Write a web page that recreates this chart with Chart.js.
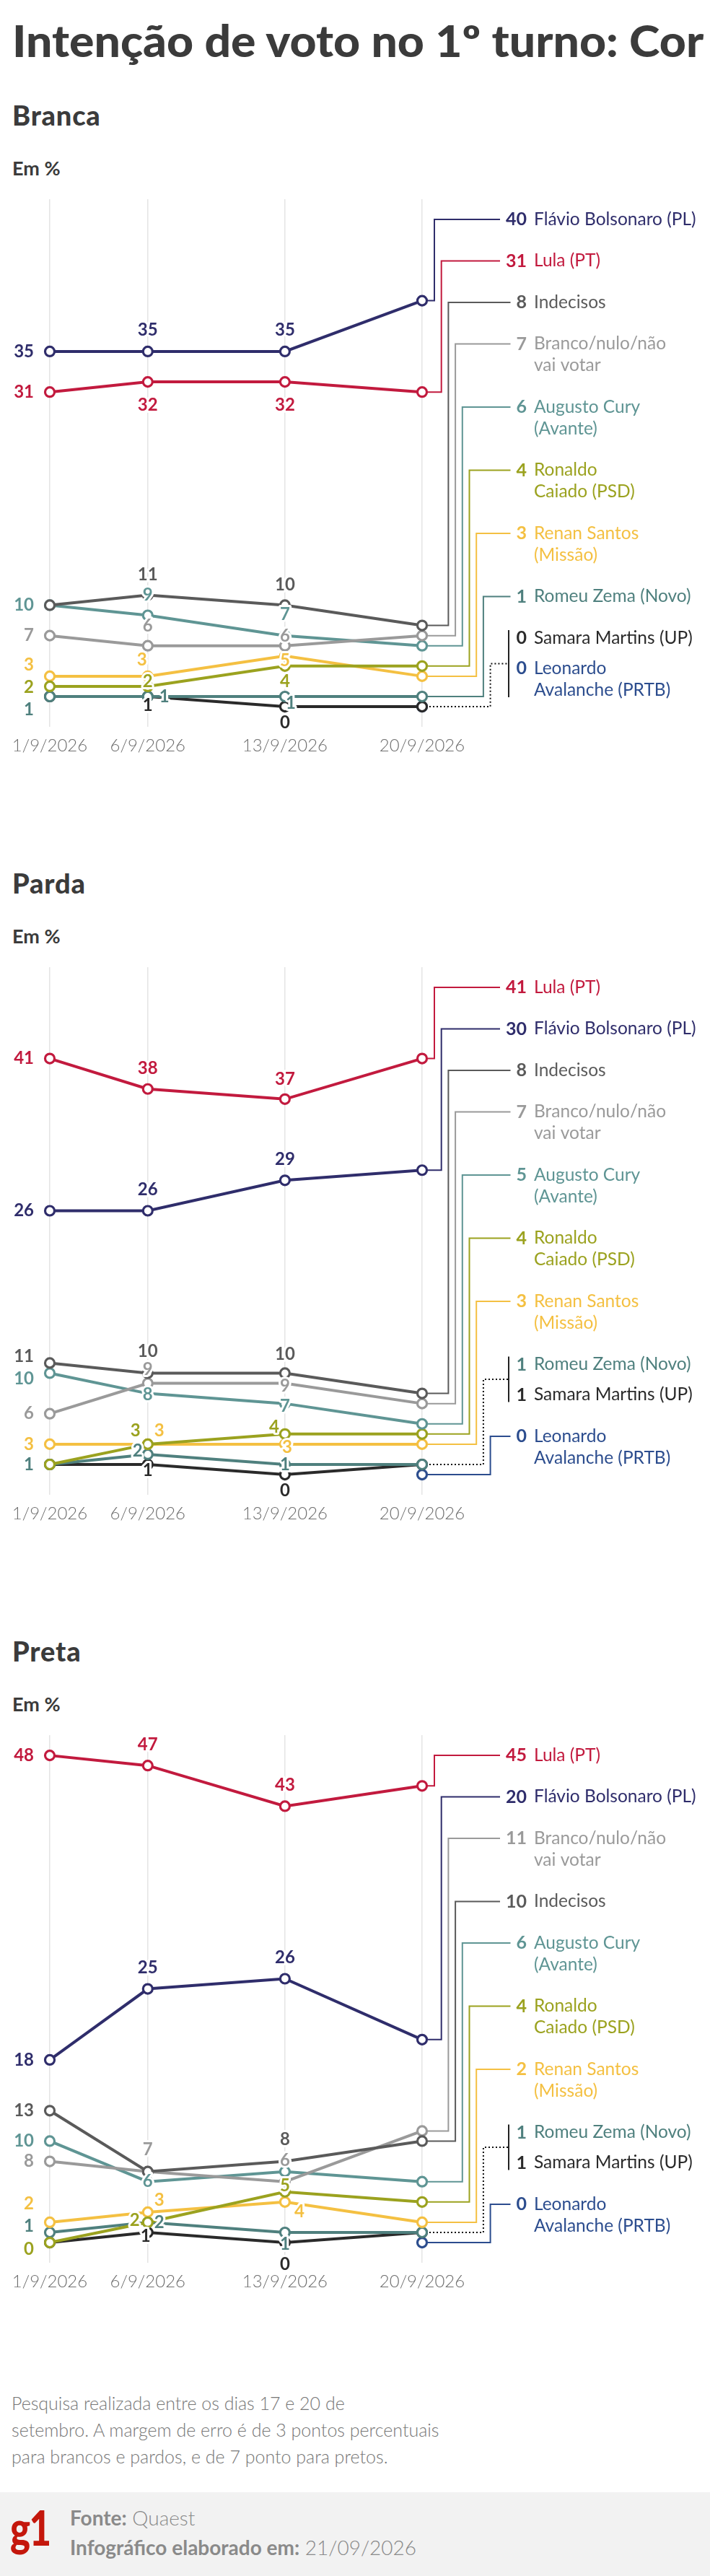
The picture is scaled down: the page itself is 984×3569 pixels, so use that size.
<!DOCTYPE html>
<html lang="pt-BR">
<head>
<meta charset="utf-8">
<title>Intenção de voto no 1º turno: Cor</title>
<script src="https://cdn.jsdelivr.net/npm/chart.js@4.4.1/dist/chart.umd.min.js"></script>
<style>
  html, body { margin: 0; padding: 0; }
  body { width: 984px; height: 3569px; position: relative; overflow: hidden; background: #fff; font-family: Lato, "Noto Sans", sans-serif; color: #3b3b3b; }
  .t { position: absolute; white-space: nowrap; line-height: 1; }
  #title { left: 17px; top: 26px; font-size: 60px; font-weight: 900; transform-origin: left top; }
  .group { left: 17px; font-size: 38px; font-weight: 900; letter-spacing: 0.8px; }
  .unit { left: 17px; font-size: 27px; font-weight: 700; }
  .box { position: absolute; left: 0; width: 984px; height: 800px; }
  #note { position: absolute; left: 16px; top: 3311px; font-size: 25px; font-weight: 300; line-height: 37px; color: #777; }
  #foot { position: absolute; left: 0; top: 3453px; width: 984px; height: 116px; background: #f2f2f2; }
  #logo { position: absolute; left: 14px; top: 16px; font-size: 66px; font-weight: 900; color: #c4170c; line-height: 1; transform: scaleX(0.8); transform-origin: left top; letter-spacing: -2px; }
  #src { position: absolute; left: 97px; top: 15px; font-size: 28px; line-height: 41px; color: #8a8a8a; font-weight: 300; }
  #src b { font-weight: 700; }
</style>
</head>
<body>
<div class="t" id="title">Intenção de voto no 1º turno: Cor</div>

<div class="t group" style="top:140px">Branca</div>
<div class="t unit" style="top:219px">Em %</div>
<div class="box" style="top:260px"><canvas id="chartBranca"></canvas></div>

<div class="t group" style="top:1204px">Parda</div>
<div class="t unit" style="top:1283px">Em %</div>
<div class="box" style="top:1324px"><canvas id="chartParda"></canvas></div>

<div class="t group" style="top:2268px">Preta</div>
<div class="t unit" style="top:2347px">Em %</div>
<div class="box" style="top:2388px"><canvas id="chartPreta"></canvas></div>

<div id="note">Pesquisa realizada entre os dias 17 e 20 de<br>setembro. A margem de erro é de 3 pontos percentuais<br>para brancos e pardos, e de 7 ponto para pretos.</div>
<div id="foot">
  <div id="logo">g1</div>
  <div id="src"><b>Fonte:</b> Quaest<br><b>Infográfico elaborado em:</b> 21/09/2026</div>
</div>

<script>
// survey dates (day of September 2026)
const dates = [1, 6, 13, 20];
const dateLabels = ['1/9/2026', '6/9/2026', '13/9/2026', '20/9/2026'];

const candidates = [
  'Flávio Bolsonaro (PL)', 'Lula (PT)', 'Indecisos', 'Branco/nulo/não vai votar',
  'Augusto Cury (Avante)', 'Ronaldo Caiado (PSD)', 'Renan Santos (Missão)',
  'Romeu Zema (Novo)', 'Samara Martins (UP)', 'Leonardo Avalanche (PRTB)'
];

// one row per candidate, same order as above
const branca = [
  [35, 35, 35, 40],
  [31, 32, 32, 31],
  [10, 11, 10, 8],
  [7, 6, 6, 7],
  [10, 9, 7, 6],
  [2, 2, 4, 4],
  [3, 3, 5, 3],
  [1, 1, 1, 1],
  [1, 1, 0, 0],
  [null, null, null, 0]
];

const parda = [
  [26, 26, 29, 30],
  [41, 38, 37, 41],
  [11, 10, 10, 8],
  [6, 9, 9, 7],
  [10, 8, 7, 5],
  [1, 3, 4, 4],
  [3, 3, 3, 3],
  [1, 2, 1, 1],
  [1, 1, 0, 1],
  [null, null, null, 0]
];

const preta = [
  [18, 25, 26, 20],
  [48, 47, 43, 45],
  [13, 7, 8, 10],
  [8, 7, 6, 11],
  [10, 6, 7, 6],
  [0, 2, 5, 4],
  [2, 3, 4, 2],
  [1, 2, 1, 1],
  [0, 1, 0, 1],
  [null, null, null, 0]
];

// --- styling ---
const colors = ['#2f2d6b', '#c21a3e', '#5a5a5a', '#9a9a9a', '#5f9594', '#9ba21f', '#f4c042', '#4f807e', '#2a2a2a', '#2c4d8e'];
const wrapAfter = [null, null, null, 'Branco/nulo/não', 'Augusto Cury', 'Ronaldo', 'Renan Santos', null, null, 'Leonardo'];
const nameLines = candidates.map((c, i) => wrapAfter[i] ? [wrapAfter[i], c.slice(wrapAfter[i].length + 1)] : [c]);

// value label offsets [dx, dy] from the point, for the first three surveys
const brancaPos = [
  [[-22, 0], [0, -30], [0, -30]],
  [[-22, 0], [0, 32], [0, 32]],
  [null, [0, -28], [0, -28]],
  [[-22, 0], [0, -27], [0, -13]],
  [[-22, 0], [0, -28], [0, -29]],
  [[-22, 1], [0, -7], [0, 21]],
  [[-22, -16], [-8, -23], [0, 6]],
  [[-22, 18], [23, 0], [8, 9]],
  [null, [0, 12], [0, 22]],
  [null, null, null]
];
const pardaPos = [
  [[-22, 0], [0, -29], [0, -29]],
  [[-22, 0], [0, -28], [0, -28]],
  [[-22, -9], [0, -30], [0, -26]],
  [[-22, 0], [0, -19], [0, 4]],
  [[-22, 8], [0, 2], [0, 4]],
  [null, [-17, -19], [-15, -10]],
  [[-22, 0], [16, -19], [3, 4]],
  [[-22, 0], [-14, -5], [0, 0]],
  [null, [0, 8], [0, 22]],
  [null, null, null]
];
const pretaPos = [
  [[-22, 0], [0, -29], [0, -29]],
  [[-22, 0], [0, -29], [0, -29]],
  [[-22, 0], null, [0, -30]],
  [[-22, 0], [0, -30], [0, -29]],
  [[-22, 0], [0, 0], null],
  [[-22, 9], [-18, -3], [0, -9]],
  [[-22, -26], [16, -17], [20, 13]],
  [[-22, -9], [16, 0], [0, 16]],
  [null, [-3, 5], [0, 30]],
  [null, null, null]
];

const NUM_RIGHT = 730;
const NAME_LEFT = 740;
const BRACKET_X = 705;

function legendLayout(chart, values) {
  const last = values.map(r => r[r.length - 1]);
  const order = last.map((v, i) => i).sort((a, b) => last[b] - last[a] || a - b);
  const items = [];
  let y = chart.chartArea.top + 28;
  order.forEach((ci, n) => {
    items.push({ ci, y, value: last[ci], lines: nameLines[ci] });
    const next = order[n + 1];
    const tied = next !== undefined && last[next] === last[ci];
    y += tied ? 42 + 30 * (nameLines[ci].length - 1) : 27.5 + 30 * nameLines[ci].length;
  });
  // units: single items or groups of tied values
  const units = [];
  items.forEach(it => {
    const u = units[units.length - 1];
    if (u && u.value === it.value) u.items.push(it);
    else units.push({ value: it.value, items: [it] });
  });
  return units;
}

const annotate = {
  id: 'annotate',
  beforeDatasetsDraw(chart, args, opts) {
    const { ctx, chartArea } = chart;
    const yScale = chart.scales.y;
    const units = legendLayout(chart, opts.values);
    const endX = chart.scales.x.getPixelForValue(dates[dates.length - 1]);
    ctx.save();
    ctx.lineWidth = 2;
    ctx.font = '700 25px Lato';
    units.forEach((u, k) => {
      const elbow = chartArea.right + 17 + k * 9.7;
      const py = yScale.getPixelForValue(u.value);
      if (u.items.length === 1) {
        const it = u.items[0];
        const numLeft = NUM_RIGHT - ctx.measureText(String(it.value)).width;
        ctx.strokeStyle = colors[it.ci];
        ctx.setLineDash([]);
        ctx.beginPath();
        ctx.moveTo(endX, py);
        ctx.lineTo(elbow, py);
        ctx.lineTo(elbow, it.y);
        ctx.lineTo(numLeft - 8, it.y);
        ctx.stroke();
      } else {
        const first = u.items[0];
        const lastIt = u.items[u.items.length - 1];
        const top = first.y - 11;
        const bottom = lastIt.y + 30 * (lastIt.lines.length - 1) + 10;
        const mid = (top + bottom) / 2;
        ctx.strokeStyle = '#111';
        ctx.setLineDash([2, 3]);
        ctx.beginPath();
        ctx.moveTo(endX, py);
        ctx.lineTo(elbow, py);
        ctx.lineTo(elbow, mid);
        ctx.lineTo(BRACKET_X, mid);
        ctx.stroke();
        ctx.setLineDash([]);
        ctx.strokeStyle = '#222';
        ctx.beginPath();
        ctx.moveTo(BRACKET_X, top);
        ctx.lineTo(BRACKET_X, bottom);
        ctx.stroke();
      }
    });
    ctx.restore();
  },
  afterDatasetsDraw(chart, args, opts) {
    const { ctx } = chart;
    ctx.save();
    ctx.textBaseline = 'middle';
    ctx.lineJoin = 'round';
    // value labels on the first three surveys
    ctx.font = '700 24px Lato';
    chart.data.datasets.forEach((ds, i) => {
      const meta = chart.getDatasetMeta(i);
      opts.pos[i].forEach((p, j) => {
        const v = opts.values[i][j];
        if (!p || v === null) return;
        const pt = meta.data[j];
        ctx.textAlign = j === 0 ? 'right' : 'center';
        const x = pt.x + p[0];
        const y = pt.y + p[1];
        ctx.strokeStyle = '#fff';
        ctx.lineWidth = 6;
        ctx.strokeText(String(v), x, y);
        ctx.fillStyle = colors[i];
        ctx.fillText(String(v), x, y);
      });
    });
    // right-hand legend with the latest values
    legendLayout(chart, opts.values).forEach(u => {
      u.items.forEach(it => {
        ctx.fillStyle = colors[it.ci];
        ctx.textAlign = 'right';
        ctx.font = '700 25px Lato';
        ctx.fillText(String(it.value), NUM_RIGHT, it.y);
        ctx.textAlign = 'left';
        ctx.font = '400 24.5px Lato';
        it.lines.forEach((line, l) => ctx.fillText(line, NAME_LEFT, it.y + 30 * l));
      });
    });
    ctx.restore();
  }
};

function drawPanel(id, values, pos) {
  const datasets = candidates.map((name, i) => ({
    label: name,
    data: dates.map((d, j) => ({ x: d, y: values[i][j] })),
    borderColor: colors[i],
    backgroundColor: '#fff',
    pointBackgroundColor: '#fff',
    pointBorderColor: colors[i],
    borderWidth: 4,
    pointRadius: 6.5,
    pointBorderWidth: 3.2,
    pointHoverRadius: 6.5,
    tension: 0,
    clip: false
  }));

  return new Chart(document.getElementById(id), {
    type: 'line',
    data: { datasets },
    options: {
      responsive: true,
      maintainAspectRatio: false,
      animation: false,
      events: [],
      layout: { padding: { top: 16, left: 69, right: 399, bottom: 0 } },
      scales: {
        x: {
          type: 'linear',
          min: dates[0],
          max: dates[dates.length - 1],
          afterBuildTicks: axis => { axis.ticks = dates.map(v => ({ value: v })); },
          ticks: {
            callback: (v, i) => dateLabels[i],
            font: { family: 'Lato', size: 24, weight: 300 },
            color: '#6e6e6e',
            padding: 12,
            maxRotation: 0,
            autoSkip: false
          },
          grid: { color: '#e4e4e4', lineWidth: 1.5, drawTicks: false },
          border: { display: false }
        },
        y: { display: false, min: -2, max: 50 }
      },
      plugins: {
        legend: { display: false },
        tooltip: { enabled: false },
        annotate: { values, pos }
      }
    },
    plugins: [annotate]
  });
}

drawPanel('chartBranca', branca, brancaPos);
drawPanel('chartParda', parda, pardaPos);
drawPanel('chartPreta', preta, pretaPos);

// squeeze the headline to the width used in the original
const title = document.getElementById('title');
title.style.transform = 'scaleX(' + (958 / title.offsetWidth) + ')';
</script>
</body>
</html>
